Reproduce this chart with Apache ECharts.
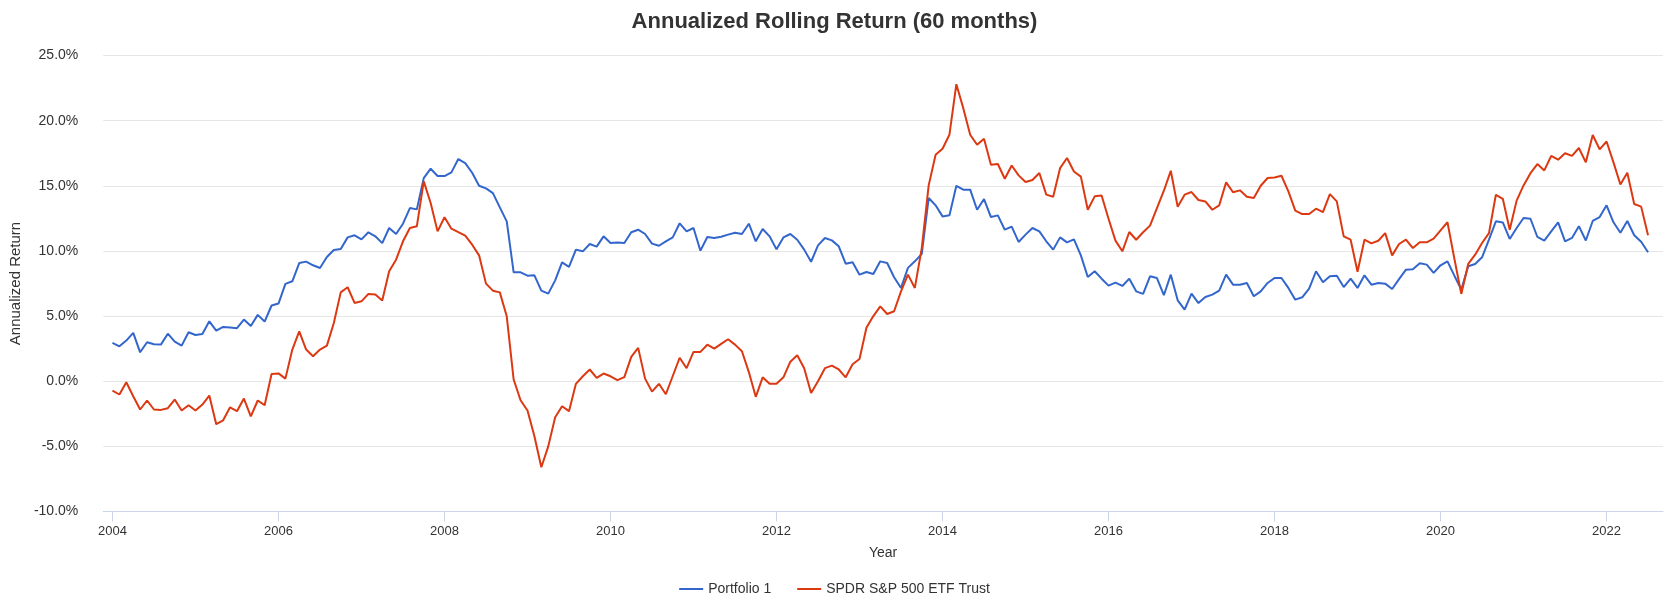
<!DOCTYPE html>
<html><head><meta charset="utf-8">
<script src="https://cdn.jsdelivr.net/npm/echarts@6/dist/echarts.min.js"></script>
<style>html,body{margin:0;padding:0;background:#fff}#c{width:1669px;height:604px}</style>
</head><body><div id="c"></div>
<script>
// Monthly observations, first point January 2004
const startYear = 2004;
const seriesNames = ['Portfolio 1', 'SPDR S&P 500 ETF Trust'];
const portfolio1 = [
2.94,2.68,3.12,3.71,2.22,2.99,2.84,2.81,3.65,3.04,2.73,3.76,
3.55,3.63,4.6,3.88,4.17,4.12,4.07,4.73,4.24,5.09,4.58,5.81,
5.96,7.47,7.67,9.07,9.18,8.9,8.69,9.53,10.07,10.14,11.04,11.2,
10.89,11.43,11.12,10.6,11.76,11.3,12.09,13.29,13.19,15.59,16.31,15.75,
15.75,16.03,17.05,16.74,16.0,15.0,14.8,14.44,13.34,12.27,8.36,8.36,
8.1,8.13,6.95,6.72,7.74,9.12,8.77,10.1,9.97,10.53,10.33,11.12,
10.61,10.64,10.61,11.43,11.63,11.3,10.56,10.4,10.74,11.04,12.12,11.5,
11.76,10.02,11.07,10.99,11.09,11.25,11.4,11.3,12.09,10.74,11.68,11.12,
10.12,11.04,11.3,10.86,10.1,9.17,10.43,10.99,10.81,10.35,9.02,9.13,
8.18,8.38,8.23,9.2,9.07,7.98,7.16,8.7,9.2,9.77,14.06,13.5,
12.65,12.73,15.0,14.7,14.7,13.16,13.98,12.6,12.73,11.63,11.86,10.69,
11.25,11.76,11.5,10.74,10.1,11.04,10.66,10.89,9.66,8.0,8.44,7.87,
7.34,7.57,7.31,7.87,6.9,6.7,8.05,7.92,6.6,8.18,6.21,5.5,
6.72,6.0,6.46,6.65,6.95,8.18,7.41,7.41,7.54,6.52,6.9,7.54,
7.92,7.92,7.16,6.26,6.44,7.1,8.44,7.59,8.05,8.1,7.23,7.87,
7.16,8.13,7.41,7.54,7.49,7.08,7.84,8.56,8.59,9.05,8.95,8.31,
8.9,9.2,8.1,7.03,8.82,9.0,9.51,10.86,12.27,12.19,10.92,11.76,
12.53,12.47,11.07,10.79,11.5,12.19,10.74,11.0,11.9,10.8,12.3,12.6,
13.5,12.2,11.4,12.3,11.2,10.7,9.9
];
const spdr = [
-0.72,-1.02,-0.08,-1.15,-2.17,-1.48,-2.17,-2.2,-2.07,-1.41,-2.25,-1.84,
-2.25,-1.79,-1.1,-3.3,-3.0,-2.0,-2.3,-1.33,-2.7,-1.48,-1.84,0.56,
0.6,0.2,2.43,3.83,2.43,1.92,2.43,2.73,4.47,6.82,7.21,6.01,
6.13,6.7,6.65,6.19,8.44,9.33,10.74,11.76,11.89,15.34,13.68,11.5,
12.58,11.71,11.45,11.17,10.48,9.66,7.49,6.95,6.82,4.98,0.13,-1.46,
-2.25,-4.22,-6.6,-5.0,-2.76,-1.92,-2.3,-0.2,0.38,0.9,0.26,0.59,
0.38,0.08,0.31,1.87,2.56,0.2,-0.8,-0.2,-1.0,0.4,1.8,1.0,
2.25,2.25,2.8,2.5,2.86,3.22,2.81,2.3,0.7,-1.2,0.3,-0.2,
-0.2,0.3,1.5,2.0,1.0,-0.9,0.0,1.0,1.2,0.9,0.3,1.3,
1.7,4.1,5.0,5.75,5.16,5.37,6.9,8.18,7.16,10.22,15.03,17.38,
17.84,18.92,22.8,20.96,18.92,18.15,18.61,16.62,16.67,15.54,16.56,15.8,
15.29,15.44,15.98,14.32,14.16,16.36,17.13,16.1,15.7,13.16,14.19,14.26,
12.47,10.79,9.97,11.45,10.86,11.43,11.94,13.29,14.62,16.15,13.39,14.32,
14.52,13.91,13.8,13.16,13.5,15.26,14.5,14.65,14.16,14.06,15.0,15.6,
15.64,15.77,14.57,13.09,12.83,12.83,13.24,12.98,14.36,13.8,11.12,10.86,
8.4,10.86,10.58,10.78,11.37,9.66,10.53,10.86,10.22,10.66,10.66,10.94,
11.58,12.2,9.4,6.7,9.0,9.71,10.61,11.37,14.31,14.0,11.63,13.86,
15.03,15.97,16.67,16.18,17.3,17.0,17.5,17.3,17.9,16.8,18.9,17.8,
18.4,16.8,15.1,16.0,13.6,13.4,11.2
];
const xTickYears = [2004,2006,2008,2010,2012,2014,2016,2018,2020,2022];
const yTicks = [-10,-5,0,5,10,15,20,25];

function toPairs(vals){ return vals.map((v,i)=>[startYear + i/12, v]); }

const chart = echarts.init(document.getElementById('c'), null, {renderer:'canvas'});
const font = 'Liberation Sans, Arial, Helvetica, sans-serif';
chart.setOption({
  animation:false,
  backgroundColor:'#ffffff',
  textStyle:{fontFamily:font},
  title:{text:'Annualized Rolling Return (60 months)', left:'center', top:6,
    textStyle:{fontSize:22, fontWeight:'bold', color:'#333333', fontFamily:font}},
  legend:{bottom:3, left:'center', icon:'rect', itemWidth:24, itemHeight:2, itemGap:26,
    textStyle:{fontSize:14, color:'#333333', fontFamily:font},
    data:seriesNames},
  grid:{left:95, right:6, top:55.5, bottom:92.5, containLabel:false},
  xAxis:{type:'value', min:2003.889, max:2022.680,
    name:'Year', nameLocation:'middle', nameGap:35,
    nameTextStyle:{fontSize:14, color:'#333333'},
    axisLine:{show:true, onZero:false, lineStyle:{color:'#ccd6eb', width:1}},
    axisTick:{show:true, length:10, lineStyle:{color:'#ccd6eb'}, customValues:xTickYears},
    axisLabel:{customValues:xTickYears, formatter:v=>String(Math.round(v)), fontSize:13, color:'#333333', margin:13},
    splitLine:{show:false}},
  yAxis:{type:'value', min:yTicks[0], max:yTicks[yTicks.length-1], interval:5,
    name:'Annualized Return', nameLocation:'middle', nameGap:80, nameRotate:90,
    nameTextStyle:{fontSize:15, color:'#333333'},
    axisLine:{show:false}, axisTick:{show:false},
    axisLabel:{formatter:v=>v.toFixed(1)+'%', fontSize:14, color:'#333333', margin:25},
    splitLine:{show:true, lineStyle:{color:'#e6e6e6', width:1}}},
  series:[
    {name:seriesNames[0], type:'line', data:toPairs(portfolio1), symbol:'none', showSymbol:false,
      lineStyle:{color:'#3366cc', width:2}, itemStyle:{color:'#3366cc'}},
    {name:seriesNames[1], type:'line', data:toPairs(spdr), symbol:'none', showSymbol:false,
      lineStyle:{color:'#dc3912', width:2}, itemStyle:{color:'#dc3912'}}
  ]
});
</script></body></html>
